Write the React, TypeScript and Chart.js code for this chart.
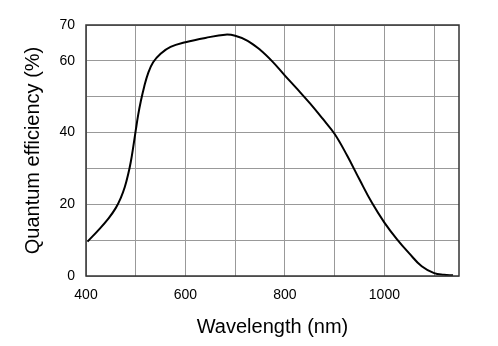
import React, { useEffect, useRef } from "react";
import { Chart, registerables } from "chart.js";

Chart.register(...registerables);

const wavelengths = [403, 425, 445, 460, 470, 478, 485, 490, 495, 500, 505, 510, 517, 525, 535, 550, 570, 600, 640, 680, 700, 725, 750, 775, 800, 825, 850, 875, 900, 925, 950, 975, 1000, 1025, 1050, 1075, 1100, 1120, 1138];
const efficiency = [9.6, 12.8, 16.0, 19.0, 21.8, 24.8, 28.5, 31.8, 36.0, 40.6, 45.0, 48.6, 52.8, 56.6, 59.6, 62.0, 63.9, 65.2, 66.4, 67.3, 67.0, 65.6, 63.1, 59.8, 55.9, 52.1, 48.2, 44.0, 39.6, 33.6, 26.9, 20.4, 14.9, 10.3, 6.3, 2.7, 0.8, 0.35, 0.2];
const xGridValues = [400, 500, 600, 700, 800, 900, 1000, 1100];
const xTickLabels = [400, 600, 800, 1000];
const yGridValues = [0, 10, 20, 30, 40, 50, 60, 70];
const yTickLabels = [0, 20, 40, 60, 70];

const FONT = "'Liberation Sans', Arial, Helvetica, sans-serif";

const frame = {
  id: "frame",
  afterDraw(chart: any) {
    const { ctx, chartArea } = chart;
    ctx.save();
    ctx.strokeStyle = "#333";
    ctx.lineWidth = 1.5;
    ctx.strokeRect(chartArea.left, chartArea.top, chartArea.right - chartArea.left, chartArea.bottom - chartArea.top);
    ctx.restore();
  },
};

export default function App() {
  const ref = useRef<HTMLCanvasElement>(null);
  useEffect(() => {
    document.body.style.margin = "0";
    const chart = new Chart(ref.current!, {
      type: "line",
      data: {
        datasets: [
          {
            data: wavelengths.map((w, i) => ({ x: w, y: efficiency[i] })),
            borderColor: "#000",
            borderWidth: 2,
            pointRadius: 0,
            tension: 0.4,
            fill: false,
          },
        ],
      },
      options: {
        animation: false,
        responsive: false,
        devicePixelRatio: 1,
        layout: { padding: { top: 25, right: 39, left: 0, bottom: 0 } },
        plugins: { legend: { display: false }, tooltip: { enabled: false } },
        scales: {
          x: {
            type: "linear",
            min: 400,
            max: 1150,
            afterBuildTicks: (s: any) => {
              s.ticks = xGridValues.map((v) => ({ value: v }));
            },
            afterFit: (s: any) => {
              s.height = 70;
            },
            grid: { color: "#999", lineWidth: 1, drawTicks: false },
            border: { display: false },
            ticks: {
              padding: 11,
              color: "#000",
              font: { family: FONT, size: 14 },
              maxRotation: 0,
              autoSkip: false,
              callback: (v: any) => (xTickLabels.includes(v) ? String(v) : ""),
            },
            title: {
              display: true,
              text: "Wavelength (nm)",
              color: "#000",
              font: { family: FONT, size: 20 },
              padding: { top: 0, bottom: 7 },
            },
          },
          y: {
            type: "linear",
            min: 0,
            max: 70,
            afterBuildTicks: (s: any) => {
              s.ticks = yGridValues.map((v) => ({ value: v }));
            },
            afterFit: (s: any) => {
              s.width = 86;
            },
            grid: { color: "#999", lineWidth: 1, drawTicks: false },
            border: { display: false },
            ticks: {
              padding: 11,
              color: "#000",
              font: { family: FONT, size: 14 },
              autoSkip: false,
              callback: (v: any) => (yTickLabels.includes(v) ? String(v) : ""),
            },
            title: {
              display: true,
              text: "Quantum efficiency (%)",
              color: "#000",
              font: { family: FONT, size: 20 },
              padding: { top: 21, bottom: 0 },
            },
          },
        },
      },
      plugins: [frame],
    } as any);
    return () => chart.destroy();
  }, []);
  return (
    <div style={{ width: 498, height: 346 }}>
      <canvas ref={ref} width={498} height={346} style={{ display: "block" }} />
    </div>
  );
}
